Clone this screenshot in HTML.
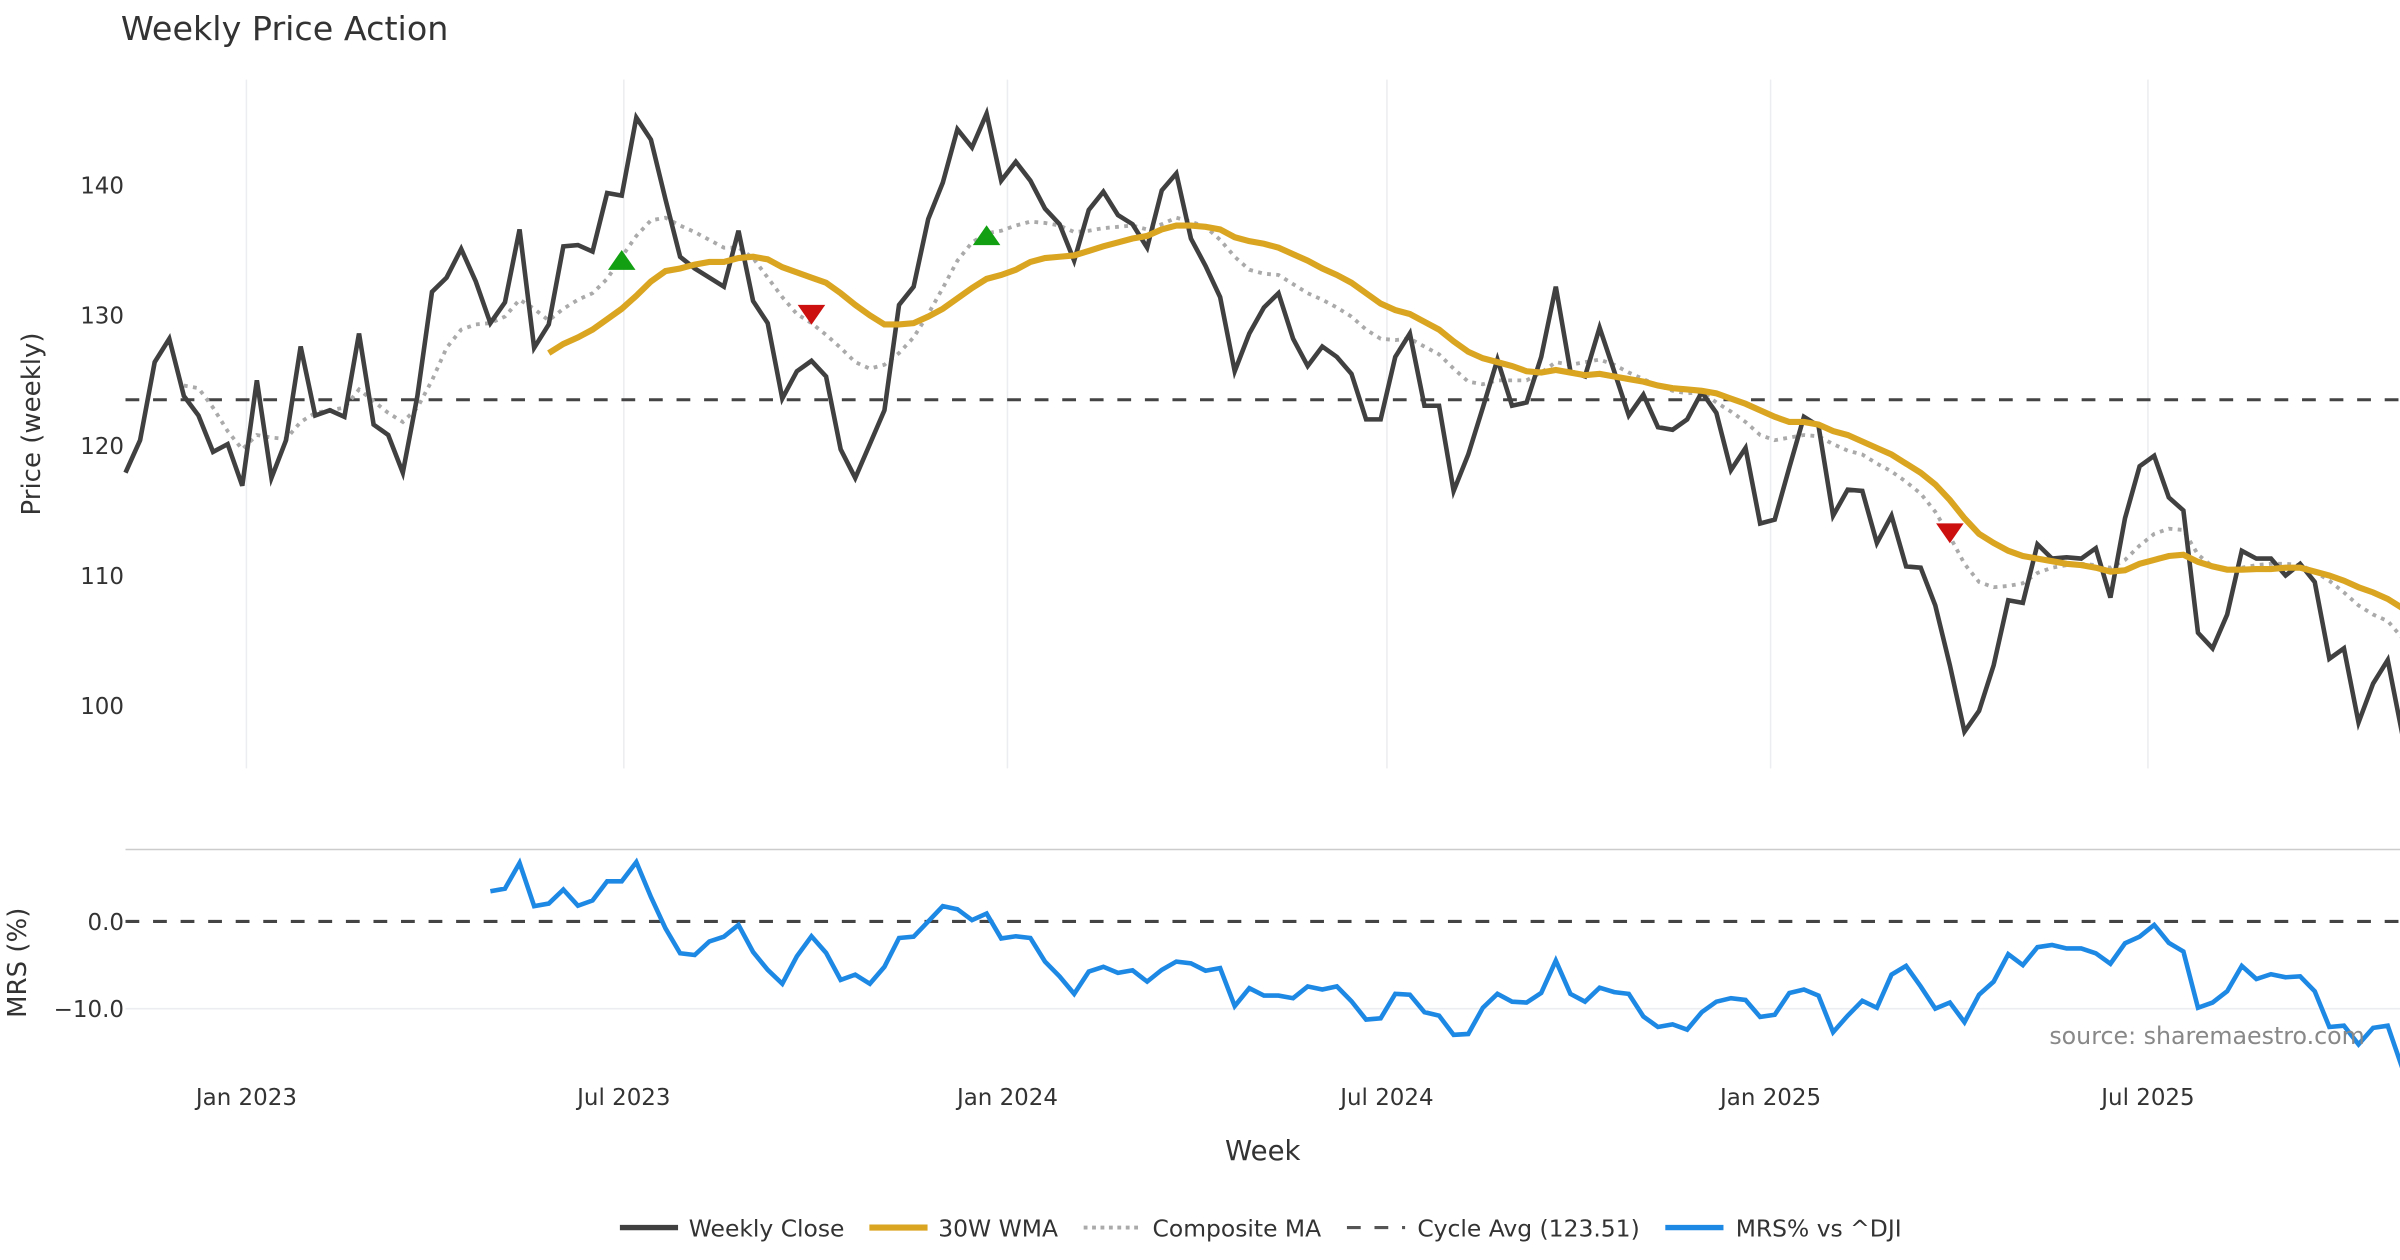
<!DOCTYPE html>
<html><head><meta charset="utf-8"><title>Weekly Price Action</title>
<style>
html,body{margin:0;padding:0;background:#fff;}
svg{display:block;font-family:"DejaVu Sans","Liberation Sans",sans-serif;}
</style></head>
<body>
<svg id="chart" width="2400" height="1260" viewBox="0 0 1568 823.2" xmlns="http://www.w3.org/2000/svg">
<rect width="1568" height="823.2" fill="#fff"/>
<text x="79" y="26" font-size="21.8" fill="#333">Weekly Price Action</text>
<g id="grid"></g>
<g id="price"></g>
<line x1="82" x2="1568" y1="555" y2="555" stroke="#ccc" stroke-width="1"/>
<g id="mrs"></g>
<g id="axes"></g>
<text transform="translate(26,277) rotate(-90)" text-anchor="middle" font-size="17" fill="#333">Price (weekly)</text>
<text transform="translate(17,629) rotate(-90)" text-anchor="middle" font-size="17" fill="#333">MRS (%)</text>
<text x="825" y="758" text-anchor="middle" font-size="18" fill="#333">Week</text>
<text x="1545" y="682" text-anchor="end" font-size="15.5" fill="#888">source: sharemaestro.com</text>
<g font-size="15.3" fill="#333">
<g><line x1="405" x2="443" y1="802" y2="802" stroke="#404040" stroke-width="3.5"/><text x="450" y="808">Weekly Close</text></g>
<g><line x1="568" x2="606" y1="802" y2="802" stroke="#DAA520" stroke-width="4"/><text x="613" y="808">30W WMA</text></g>
<g><line x1="708" x2="746" y1="802" y2="802" stroke="#aaa" stroke-width="2.5" stroke-dasharray="2.5,3"/><text x="753" y="808">Composite MA</text></g>
<g><line x1="880" x2="918" y1="802" y2="802" stroke="#555" stroke-width="2" stroke-dasharray="9,9"/><text x="926" y="808">Cycle Avg (123.51)</text></g>
<g><line x1="1088" x2="1126" y1="802" y2="802" stroke="#1E88E5" stroke-width="3.5"/><text x="1134" y="808">MRS% vs ^DJI</text></g>
</g>
</svg>
<script>
const closeVals=[117.9,120.4,126.4,128.2,123.8,122.3,119.5,120.1,116.9,125.0,117.5,120.4,127.6,122.3,122.7,122.2,128.6,121.6,120.8,117.9,123.8,131.8,132.9,135.1,132.6,129.4,131.0,136.6,127.5,129.3,135.3,135.4,134.9,139.4,139.2,145.2,143.5,138.9,134.5,133.6,132.9,132.2,136.5,131.1,129.4,123.6,125.7,126.5,125.3,119.7,117.5,120.1,122.7,130.8,132.2,137.4,140.2,144.3,142.9,145.5,140.35,141.8,140.35,138.2,137.0,134.2,138.1,139.5,137.7,137.0,135.2,139.6,140.9,135.9,133.8,131.4,125.7,128.6,130.6,131.7,128.2,126.1,127.6,126.8,125.5,122.0,122.0,126.8,128.6,123.05,123.05,116.5,119.3,122.9,126.6,123.05,123.3,126.8,132.2,125.7,125.3,129.05,125.7,122.3,123.9,121.4,121.2,122.0,124.1,122.5,118.1,119.8,114.0,114.3,118.3,122.2,121.5,114.6,116.6,116.5,112.5,114.6,110.7,110.6,107.7,103.1,98.0,99.6,103.1,108.1,107.9,112.4,111.3,111.4,111.3,112.1,108.3,114.4,118.4,119.2,116.0,115.0,105.6,104.4,107.0,111.9,111.3,111.3,110.0,110.9,109.5,103.6,104.4,98.7,101.7,103.5,97.8];
const wmaStart=29;
const wmaVals=[127.1,127.8,128.3,128.9,129.7,130.5,131.5,132.6,133.4,133.6,133.9,134.1,134.1,134.4,134.5,134.3,133.7,133.3,132.9,132.5,131.7,130.8,130.0,129.3,129.3,129.4,129.9,130.5,131.3,132.1,132.8,133.1,133.5,134.1,134.4,134.5,134.6,134.95,135.3,135.6,135.9,136.1,136.6,136.9,136.9,136.8,136.6,136.0,135.7,135.5,135.2,134.7,134.2,133.6,133.1,132.5,131.7,130.9,130.4,130.1,129.5,128.9,128.0,127.2,126.7,126.4,126.1,125.7,125.6,125.8,125.6,125.4,125.5,125.3,125.1,124.9,124.6,124.4,124.3,124.2,124.0,123.6,123.2,122.7,122.2,121.8,121.8,121.6,121.1,120.8,120.3,119.8,119.3,118.6,117.9,117.0,115.8,114.4,113.2,112.5,111.9,111.5,111.3,111.1,110.9,110.8,110.6,110.3,110.4,110.9,111.2,111.5,111.6,111.05,110.7,110.45,110.45,110.5,110.5,110.6,110.6,110.3,110.0,109.6,109.1,108.7,108.2,107.5];
const compStart=4;
const compVals=[124.6,124.4,122.9,121.1,119.7,120.8,120.6,120.5,121.8,122.5,122.7,122.9,124.3,123.4,122.5,121.8,122.9,125.0,127.5,128.9,129.3,129.4,129.9,131.2,130.5,129.6,130.5,131.2,131.7,132.8,134.5,136.1,137.3,137.5,136.9,136.4,135.8,135.2,135.2,134.4,132.9,131.4,130.1,129.4,128.5,127.5,126.4,125.9,126.2,127.1,128.3,130.1,132.1,134.2,135.6,136.3,136.5,136.9,137.2,137.1,136.9,136.4,136.5,136.7,136.8,136.9,136.6,137.0,137.5,137.2,136.8,135.8,134.5,133.5,133.2,133.1,132.4,131.7,131.2,130.6,129.9,128.9,128.2,128.1,128.2,127.6,127.0,125.9,124.9,124.7,125.0,125.0,125.0,125.6,126.4,126.2,126.4,126.6,126.2,125.6,125.1,124.6,124.2,124.0,124.1,123.3,122.6,121.8,120.8,120.4,120.6,120.8,120.7,120.1,119.6,119.3,118.6,118.0,117.2,116.3,114.9,113.0,110.9,109.5,109.1,109.2,109.4,110.2,110.6,110.8,110.9,110.8,110.6,111.2,112.3,113.2,113.6,113.5,111.6,110.7,110.45,110.6,110.8,110.9,110.9,110.8,110.3,109.6,108.7,107.7,107.0,106.5,105.2];
const mrsStart=25;
const mrsVals=[3.46,3.76,6.7,1.75,2.05,3.65,1.8,2.4,4.6,4.6,6.8,2.8,-0.8,-3.65,-3.85,-2.3,-1.75,-0.4,-3.5,-5.55,-7.15,-4.0,-1.7,-3.6,-6.7,-6.1,-7.15,-5.2,-1.9,-1.75,0,1.75,1.4,0.15,0.9,-1.95,-1.7,-1.9,-4.6,-6.3,-8.3,-5.75,-5.2,-5.9,-5.6,-6.9,-5.55,-4.6,-4.8,-5.65,-5.35,-9.7,-7.65,-8.5,-8.5,-8.8,-7.45,-7.8,-7.45,-9.15,-11.25,-11.1,-8.3,-8.4,-10.4,-10.8,-13.0,-12.9,-9.9,-8.3,-9.2,-9.3,-8.2,-4.5,-8.3,-9.2,-7.6,-8.1,-8.3,-10.9,-12.1,-11.8,-12.4,-10.4,-9.2,-8.8,-9.0,-10.95,-10.7,-8.2,-7.8,-8.5,-12.7,-10.8,-9.1,-9.9,-6.1,-5.1,-7.45,-10.0,-9.3,-11.55,-8.4,-6.9,-3.75,-5.0,-2.95,-2.7,-3.1,-3.1,-3.65,-4.85,-2.5,-1.75,-0.4,-2.45,-3.45,-9.9,-9.3,-8.0,-5.1,-6.6,-6.05,-6.4,-6.3,-8.0,-12.1,-11.95,-14.1,-12.2,-11.95,-16.8];
const buyIdx=[34,59];
const buyVals=[134.2,136.1];
const sellIdx=[47,125];
const sellVals=[130.1,113.3];
const cycleAvg=123.51;
const priceTicks=[100,110,120,130,140];
const mrsTicks=[0,-10];
const mrsTickLabels=["0.0","\u221210.0"];
const xTickLabels=["Jan 2023","Jul 2023","Jan 2024","Jul 2024","Jan 2025","Jul 2025"];
const xTickDays=[0,181,365,547,731,912];

const NS="http://www.w3.org/2000/svg";
const startDay=-58;
function xDay(d){return 161+d*1.3622;}
function xIdx(i){return xDay(startDay+i*7);}
function yP(v){return 461-(v-100)*8.5;}
function yM(v){return 602-v*5.7;}
function mk(tag,attrs,parent){const e=document.createElementNS(NS,tag);for(const k in attrs)e.setAttribute(k,attrs[k]);parent.appendChild(e);return e;}
function pathFrom(vals,start,yf){return vals.map((v,k)=>(k?'L':'M')+xIdx(start+k).toFixed(2)+','+yf(v).toFixed(2)).join(' ');}

const grid=document.getElementById('grid');
xTickDays.forEach((d,k)=>{
  const g=mk('line',{x1:xDay(d),x2:xDay(d),y1:52,y2:502,stroke:'#ebedf0','stroke-width':1},grid);
  
  
});
const mg=mk('line',{x1:82,x2:1568,y1:yM(-10),y2:yM(-10),stroke:'#ebedf0','stroke-width':1},grid);



const price=document.getElementById('price');
const ca=mk('line',{x1:82,x2:1568,y1:yP(cycleAvg),y2:yP(cycleAvg),stroke:'#444','stroke-width':2,'stroke-dasharray':'9,9'},price);


const cm=mk('path',{d:pathFrom(compVals,compStart,yP),fill:'none',stroke:'#aaa','stroke-width':2.5,'stroke-dasharray':'2.5,3.5'},price);


const cl=mk('path',{d:pathFrom(closeVals,0,yP),fill:'none',stroke:'#404040','stroke-width':3,'stroke-linejoin':'miter'},price);


const wm=mk('path',{d:pathFrom(wmaVals,wmaStart,yP),fill:'none',stroke:'#DAA520','stroke-width':4},price);


buyIdx.forEach((i,k)=>{
  const x=xIdx(i),y=yP(buyVals[k]);
  const t=mk('polygon',{points:`${x-9},${y+6} ${x+9},${y+6} ${x},${y-7}`,fill:'#12a012'},price);
  
  
});
sellIdx.forEach((i,k)=>{
  const x=xIdx(i),y=yP(sellVals[k]);
  const t=mk('polygon',{points:`${x-9},${y-6} ${x+9},${y-6} ${x},${y+7}`,fill:'#cc1010'},price);
  
  
});

const mrs=document.getElementById('mrs');
const z=mk('line',{x1:82,x2:1568,y1:yM(0),y2:yM(0),stroke:'#444','stroke-width':2,'stroke-dasharray':'9,9'},mrs);


const ml=mk('path',{d:pathFrom(mrsVals,mrsStart,yM),fill:'none',stroke:'#1E88E5','stroke-width':3},mrs);



const axes=document.getElementById('axes');
priceTicks.forEach(v=>{
  const t=mk('text',{x:81,y:yP(v)+5.5,'text-anchor':'end','font-size':15,fill:'#333'},axes);
  t.textContent=String(v);
  
  
});
mrsTicks.forEach((v,k)=>{
  const t=mk('text',{x:81,y:yM(v)+5.5,'text-anchor':'end','font-size':15,fill:'#333'},axes);
  t.textContent=mrsTickLabels[k];
  
  
});
xTickDays.forEach((d,k)=>{
  const t=mk('text',{x:xDay(d),y:722,'text-anchor':'middle','font-size':15,fill:'#333'},axes);
  t.textContent=xTickLabels[k];
  
  
});
</script>
</body></html>
